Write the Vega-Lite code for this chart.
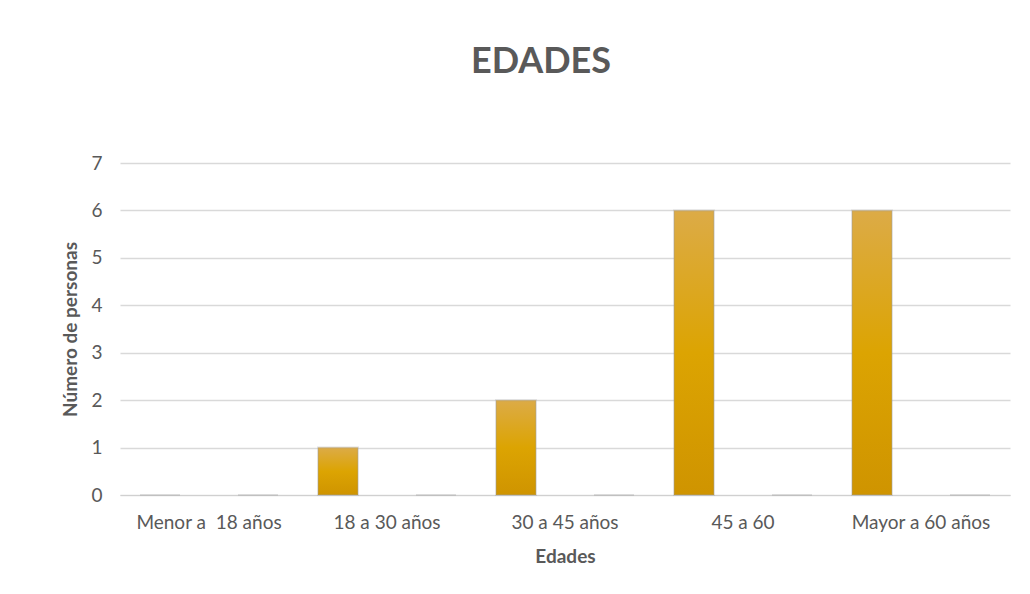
{
  "$schema": "https://vega.github.io/schema/vega-lite/v6.json",
  "autosize": {"type": "none"},
  "width": 890,
  "height": 332,
  "padding": {"left": 120, "top": 163, "right": 20, "bottom": 99},
  "background": "white",
  "title": {
    "text": "EDADES",
    "font": "Lato",
    "fontSize": 36,
    "fontWeight": "bold",
    "color": "#595959",
    "anchor": "middle",
    "frame": "group",
    "dx": -24,
    "baseline": "alphabetic",
    "offset": 45
  },
  "data": {
    "values": [
      {"edad": "Menor a  18 años", "serie": "A", "personas": 0},
      {"edad": "Menor a  18 años", "serie": "B", "personas": 0},
      {"edad": "18 a 30 años", "serie": "A", "personas": 1},
      {"edad": "18 a 30 años", "serie": "B", "personas": 0},
      {"edad": "30 a 45 años", "serie": "A", "personas": 2},
      {"edad": "30 a 45 años", "serie": "B", "personas": 0},
      {"edad": "45 a 60", "serie": "A", "personas": 6},
      {"edad": "45 a 60", "serie": "B", "personas": 0},
      {"edad": "Mayor a 60 años", "serie": "A", "personas": 6},
      {"edad": "Mayor a 60 años", "serie": "B", "personas": 0}
    ]
  },
  "mark": {
    "type": "bar",
    "stroke": "#9a9a9a",
    "strokeOpacity": 0.3,
    "strokeWidth": 2,
    "color": {
      "gradient": "linear",
      "x1": 0, "y1": 0, "x2": 0, "y2": 1,
      "stops": [
        {"offset": 0, "color": "#dcab47"},
        {"offset": 0.5, "color": "#dca402"},
        {"offset": 1, "color": "#cf9400"}
      ]
    }
  },
  "encoding": {
    "x": {
      "field": "edad",
      "type": "nominal",
      "sort": null,
      "scale": {"paddingInner": 0, "paddingOuter": 0},
      "axis": {
        "title": "Edades",
        "labelAngle": 0,
        "labelExpr": "replace(datum.label, '  ', '\u00a0 ')",
        "ticks": false,
        "domain": true,
        "domainColor": "#d0d0d0",
        "labelFont": "Lato",
        "labelFontSize": 19,
        "labelColor": "#595959",
        "labelPadding": 18,
        "titleFont": "Lato",
        "titleFontSize": 19,
        "titleFontWeight": "bold",
        "titleColor": "#595959",
        "titlePadding": 15
      }
    },
    "xOffset": {
      "field": "serie",
      "type": "nominal",
      "scale": {"paddingInner": 0.592, "paddingOuter": 0.204}
    },
    "y": {
      "field": "personas",
      "type": "quantitative",
      "scale": {"domain": [0, 7]},
      "axis": {
        "title": "Número de personas",
        "values": [0, 1, 2, 3, 4, 5, 6, 7],
        "ticks": false,
        "domain": false,
        "grid": true,
        "gridColor": "#d9d9d9",
        "gridWidth": 1.3,
        "labelFont": "Lato",
        "labelFontSize": 19,
        "labelColor": "#595959",
        "labelPadding": 18,
        "titleFont": "Lato",
        "titleFontSize": 19,
        "titleFontWeight": "bold",
        "titleColor": "#595959",
        "titlePadding": 10
      }
    }
  },
  "config": {
    "view": {"stroke": null},
    "legend": {"disable": true}
  }
}
